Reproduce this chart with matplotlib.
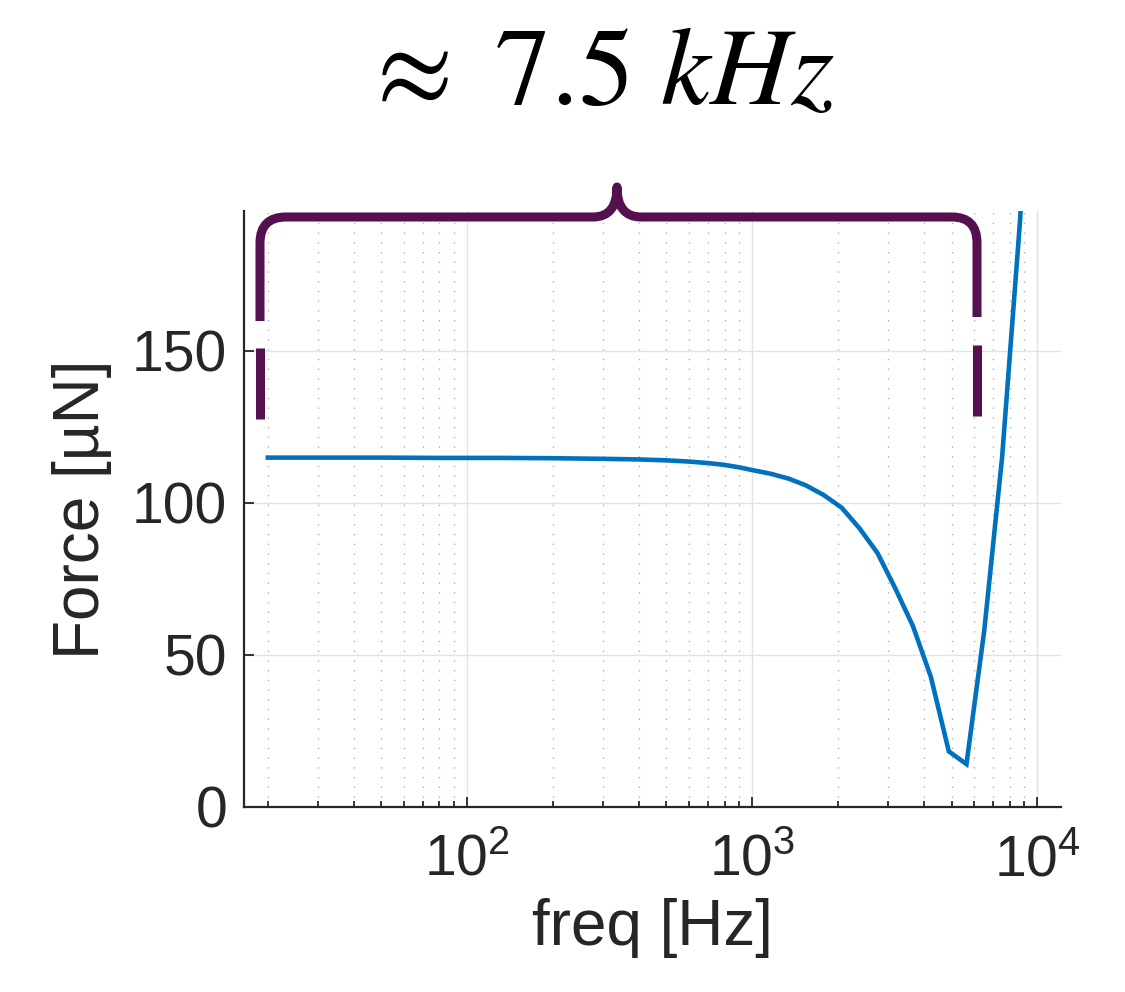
import matplotlib
matplotlib.use('Agg')
import matplotlib.pyplot as plt
from matplotlib.path import Path
from matplotlib.patches import PathPatch
from matplotlib.lines import Line2D
from matplotlib.ticker import FixedLocator, FixedFormatter, LogLocator, NullFormatter

# Respuesta en frecuencia de la fuerza
freq = [20, 30, 50, 80, 130, 200, 300, 400, 500, 600, 700, 800, 900, 1000,
        1160, 1340, 1540, 1780, 2060, 2380, 2750, 3170, 3660, 4230, 4890,
        5640, 6510, 7520, 8680, 10000]
force = [114.9, 114.9, 114.9, 114.8, 114.8, 114.7, 114.5, 114.3, 114.0, 113.6,
         113.1, 112.5, 111.7, 110.8, 109.6, 108.0, 105.8, 102.6, 98.4, 91.6,
         83.5, 72.0, 59.5, 42.8, 18.3, 14.1, 58.0, 115.0, 192.0, 290.0]

xticks = [100, 1000, 10000]
xticklabels = [r'$\mathregular{10^{2}}$', r'$\mathregular{10^{3}}$', r'$\mathregular{10^{4}}$']
yticks = [0, 50, 100, 150]
titulo = r'$\approx\ 7.5\ kHz$'

W, H = 1125, 992
gris = '#262626'
morado = '#55114f'

plt.rcParams['font.family'] = ['Liberation Sans', 'DejaVu Sans']
plt.rcParams['mathtext.fontset'] = 'custom'
plt.rcParams['mathtext.rm'] = 'Liberation Sans'

fig = plt.figure(figsize=(W / 100, H / 100), dpi=100)
ax = fig.add_axes([244 / W, 1 - 807 / H, 817 / W, 596 / H])

ax.plot(freq, force, color='#0072BD', lw=3.3, solid_joinstyle='miter')
ax.set_xscale('log')
ax.set_xlim(16.5, 12100)
ax.set_ylim(0, 196)

# Ejes estilo matlab
for lado in ['top', 'right']:
    ax.spines[lado].set_visible(False)
for lado in ['left', 'bottom']:
    ax.spines[lado].set_color(gris)
    ax.spines[lado].set_linewidth(1.6)

ax.xaxis.set_major_locator(FixedLocator(xticks))
ax.xaxis.set_major_formatter(FixedFormatter(xticklabels))
ax.xaxis.set_minor_locator(LogLocator(base=10, subs=range(2, 10)))
ax.xaxis.set_minor_formatter(NullFormatter())
ax.set_yticks(yticks)
ax.tick_params(which='both', direction='in', color=gris, labelcolor=gris, width=1.3)
ax.tick_params(which='major', length=7, labelsize=41)
ax.tick_params(which='minor', length=4)
ax.tick_params(axis='x', pad=19)
ax.tick_params(axis='y', pad=12)

ax.grid(True, which='major', color='#e2e2e2', lw=1.0)
ax.grid(True, which='minor', axis='x', color='#b0b0b0', lw=1.0, ls=(0, (1, 6)))
ax.set_axisbelow(True)

ax.set_xlabel('freq [Hz]', fontsize=46, color=gris)
ax.set_ylabel('Force [\u00b5N]', fontsize=46, color=gris)
ax.xaxis.set_label_coords(0.5, -0.152)
ax.yaxis.set_label_coords(-0.162, 0.5)

# Llave de anotacion (coordenadas en pixeles de la figura)
def px(x, y):
    return (x / W, 1 - y / H)

pts = [(260, 321), (260, 243), (260, 217), (286, 217), (593, 217), (617, 217), (617, 187),
       (617, 217), (641, 217), (952, 217), (977, 217), (977, 243), (977, 317)]
codes = [Path.MOVETO, Path.LINETO, Path.CURVE3, Path.CURVE3, Path.LINETO, Path.CURVE3, Path.CURVE3,
         Path.CURVE3, Path.CURVE3, Path.LINETO, Path.CURVE3, Path.CURVE3, Path.LINETO]
llave = PathPatch(Path([px(*p) for p in pts], codes), transform=fig.transFigure, fill=False,
                  edgecolor=morado, lw=6.5, capstyle='butt', joinstyle='round')
fig.patches.append(llave)
for x0, y0, y1 in [(260, 348, 419), (977, 345, 416)]:
    a, b = px(x0, y0), px(x0, y1)
    fig.lines.append(Line2D([a[0], b[0]], [a[1], b[1]], transform=fig.transFigure,
                            color=morado, lw=6.5, solid_capstyle='butt'))

fig.text(597 / W, 1 - 104 / H, titulo, ha='center', va='baseline', fontsize=80,
         math_fontfamily='stix', color='black')

plt.savefig('out.png', dpi=100)
